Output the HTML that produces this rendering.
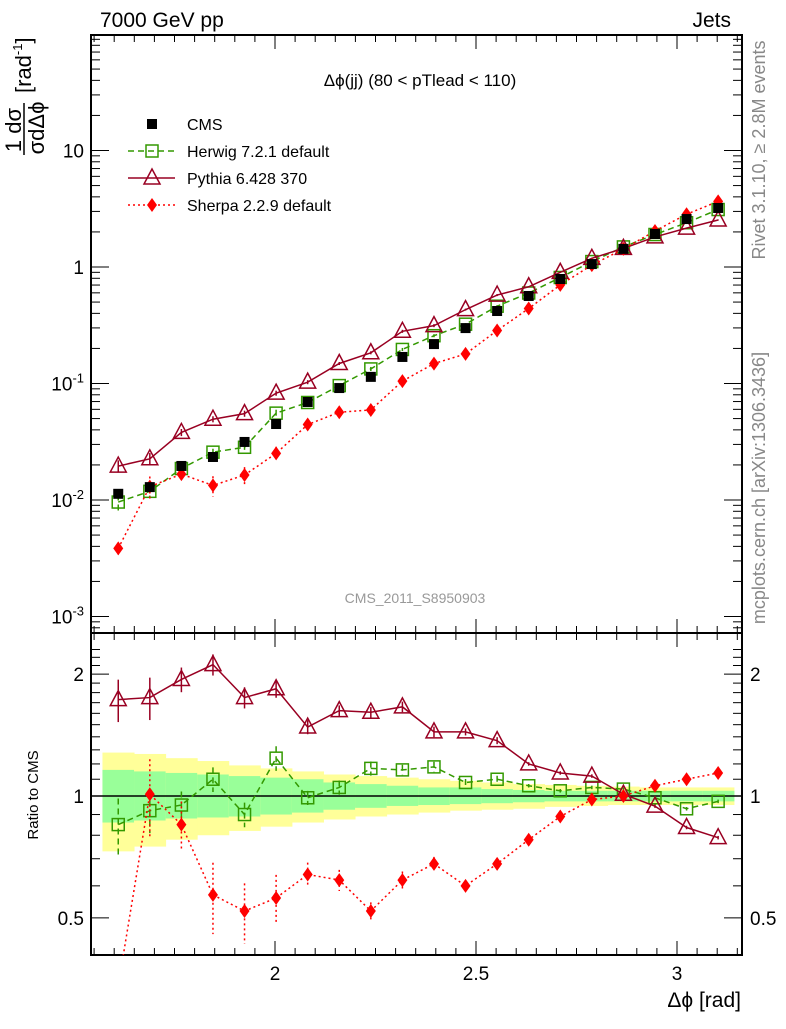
<!DOCTYPE html>
<html><head><meta charset="utf-8"><style>
body{margin:0;background:#fff;font-family:"Liberation Sans",sans-serif}
svg text{font-family:"Liberation Sans","DejaVu Sans",sans-serif}
</style></head><body>
<svg id="c" width="786" height="1024" xmlns="http://www.w3.org/2000/svg">
<text x="100" y="27" font-size="21">7000 GeV pp</text>
<text x="731" y="27" font-size="21" text-anchor="end">Jets</text>
<text x="420" y="86" font-size="17" text-anchor="middle">Δϕ(jj) (80 &lt; pTlead &lt;  110)</text>
<text transform="translate(765,150) rotate(-90)" font-size="18" fill="#888" text-anchor="middle">Rivet 3.1.10, ≥ 2.8M events</text>
<text transform="translate(765,488) rotate(-90)" font-size="18" fill="#888" text-anchor="middle">mcplots.cern.ch [arXiv:1306.3436]</text>
<text x="415" y="603" font-size="14" fill="#999" text-anchor="middle">CMS_2011_S8950903</text>
<g transform="rotate(-90)">
<text x="-130" y="21" font-size="22" text-anchor="middle">1 dσ</text>
<line x1="-155" y1="24" x2="-103" y2="24" stroke="#000" stroke-width="1.5"/>
<text x="-128" y="44" font-size="22" text-anchor="middle">σdΔϕ</text>
<text x="-93" y="31" font-size="22">[rad<tspan font-size="13" dy="-9">-1</tspan><tspan dy="9">]</tspan></text>
</g>
<text transform="translate(38,795) rotate(-90)" font-size="15" text-anchor="middle">Ratio to CMS</text>
<text x="741" y="1007" font-size="21" text-anchor="end">Δϕ [rad]</text>
<g id="g"></g>
</svg>
<script>
const cms=[0.0113,0.0129,0.0196,0.0234,0.0315,0.0449,0.0694,0.0914,0.114,0.169,0.218,0.299,0.419,0.564,0.789,1.06,1.43,1.92,2.58,3.21];
const herwigRatio=[0.85,0.92,0.95,1.10,0.90,1.24,0.99,1.05,1.17,1.16,1.18,1.08,1.10,1.06,1.03,1.05,1.04,0.99,0.93,0.97];
const pythiaRatio=[1.73,1.75,1.94,2.11,1.75,1.84,1.48,1.625,1.61,1.66,1.44,1.44,1.37,1.20,1.14,1.12,1.01,0.944,0.836,0.789];
const sherpaRatio=[0.34,1.01,0.85,0.57,0.52,0.56,0.64,0.62,0.52,0.62,0.68,0.60,0.68,0.78,0.89,0.98,1.0,1.06,1.1,1.14];
const herwigErr=[0.16,0.12,0.08,0.07,0.07,0.07,0.04,0.04,0.04,0.03,0.03,0.02,0.02,0.01,0.01,0.01,0.01,0.01,0.01,0.01];
const pythiaErr=[0.12,0.12,0.07,0.06,0.06,0.05,0.04,0.03,0.03,0.03,0.03,0.02,0.02,0.01,0.01,0.01,0.01,0.01,0.01,0.01];
const sherpaErr=[0.12,0.22,0.14,0.20,0.17,0.14,0.07,0.06,0.05,0.05,0.04,0.03,0.03,0.02,0.02,0.01,0.01,0.01,0.01,0.01];
const yellowUp=[1.28,1.27,1.24,1.22,1.19,1.17,1.15,1.13,1.12,1.11,1.10,1.09,1.08,1.07,1.065,1.06,1.055,1.05,1.05,1.05];
const yellowDn=[0.73,0.75,0.78,0.80,0.82,0.84,0.86,0.875,0.89,0.90,0.91,0.92,0.925,0.93,0.94,0.945,0.95,0.95,0.95,0.95];
const greenUp=[1.16,1.15,1.14,1.13,1.12,1.11,1.10,1.08,1.07,1.06,1.05,1.05,1.04,1.035,1.03,1.03,1.03,1.03,1.03,1.03];
const greenDn=[0.86,0.87,0.88,0.885,0.89,0.9,0.91,0.925,0.935,0.945,0.95,0.955,0.96,0.965,0.97,0.97,0.97,0.97,0.97,0.97];
const mainTicks=[["10","1","10"],["1","0",""],["10","-1","10"],["10","-2","10"],["10","-3","10"]];
const xTicks=[2,2.5,3];
const ratioTicks=[0.5,1,2];

const NS="http://www.w3.org/2000/svg",G=document.getElementById('g');
const L=91,R=742,T=35,MB=633,RB=955;
const X=v=>275+(v-2)*402;
const Y=v=>267-116.5*Math.log10(v);
const YR=v=>796-405*Math.log10(v);
function el(t,a,p){const e=document.createElementNS(NS,t);for(const k in a)e.setAttribute(k,a[k]);(p||G).appendChild(e);return e;}
const n=cms.length,w=Math.PI/2/n,ctr=i=>Math.PI/2+w*(i+0.5);
for(let i=0;i<n;i++){const x0=X(ctr(i)-w/2),x1=X(ctr(i)+w/2);
 let b=el('rect',{x:x0,y:YR(yellowUp[i]),width:x1-x0+0.5,height:YR(yellowDn[i])-YR(yellowUp[i]),fill:'#ffff99'});
 
 
 let g=el('rect',{x:x0,y:YR(greenUp[i]),width:x1-x0+0.5,height:YR(greenDn[i])-YR(greenUp[i]),fill:'#99ff99'});
 
 }
el('line',{x1:L,x2:R,y1:YR(1),y2:YR(1),stroke:'#000','stroke-width':1.5});
for(const [t,b] of [[T,MB],[MB,RB]]){const f=el('rect',{x:L,y:t,width:R-L,height:b-t,fill:'none',stroke:'#000','stroke-width':2});
 
 }
for(let v=1.55;v<=3.16;v+=0.05){const x=X(v);const maj=Math.abs(v*2-Math.round(v*2))<1e-6;const l=maj?14:7;
 for(const [t,b] of [[T,MB],[MB,RB]]){el('line',{x1:x,x2:x,y1:b,y2:b-l,stroke:'#000'});el('line',{x1:x,x2:x,y1:t,y2:t+l,stroke:'#000'});}}
xTicks.forEach(v=>{const t=el('text',{x:X(v),y:980,'font-size':19,'text-anchor':'middle'});t.textContent=String(v);
 
 });
for(let e=-4;e<=2;e++)for(let m=1;m<10;m++){const v=m*Math.pow(10,e),y=Y(v);if(y<T||y>MB)continue;const l=m==1?18:9;
 el('line',{x1:L,x2:L+l,y1:y,y2:y,stroke:'#000'});el('line',{x1:R,x2:R-l,y1:y,y2:y,stroke:'#000'});}
mainTicks.forEach((tk,i)=>{const y=Y(Math.pow(10,1-i));const t=el('text',{x:84,y:y+7,'font-size':19,'text-anchor':'end'});
 
 
 if(tk[2]&&tk[1]!=='1'){t.textContent=tk[2];const s=el('tspan',{dy:-8,'font-size':13},t);s.textContent=tk[1];}else t.textContent=tk[0];});
for(let v=0.4;v<=2.35;v+=0.1){const y=YR(v);if(y<MB||y>RB)continue;const maj=ratioTicks.some(r=>Math.abs(r-v)<1e-6);const l=maj?18:9;
 el('line',{x1:L,x2:L+l,y1:y,y2:y,stroke:'#000'});el('line',{x1:R,x2:R-l,y1:y,y2:y,stroke:'#000'});}
ratioTicks.forEach(v=>{for(const [x,a] of [[84,'end'],[750,'start']]){const t=el('text',{x:x,y:YR(v)+7,'font-size':19,'text-anchor':a});t.textContent=String(v);
 
 }});
const cp=el('clipPath',{id:'cm'});el('rect',{x:L,y:T,width:R-L,height:MB-T},cp);
const cr=el('clipPath',{id:'cr'});el('rect',{x:L,y:MB,width:R-L,height:RB-MB},cr);
const gm=el('g',{'clip-path':'url(#cm)'}),gr=el('g',{'clip-path':'url(#cr)'});
function marker(p,type,x,y,col){
 if(type=='sq')return el('rect',{x:x-6,y:y-6,width:12,height:12,fill:'none',stroke:col,'stroke-width':1.5},p);
 if(type=='tri')return el('path',{d:`M${x},${y-9}L${x+8},${y+6}L${x-8},${y+6}Z`,fill:'none',stroke:col,'stroke-width':1.5},p);
 if(type=='dia')return el('path',{d:`M${x},${y-7}L${x+5},${y}L${x},${y+7}L${x-5},${y}Z`,fill:col},p);
 return el('rect',{x:x-5,y:y-5,width:10,height:10,fill:col},p);}
const series=[['herwig',herwigRatio,herwigErr,'#339900','6,4','sq'],['pythia',pythiaRatio,pythiaErr,'#990022','','tri'],['sherpa',sherpaRatio,sherpaErr,'#ff0000','2,3','dia']];
series.forEach(([nm,r,er,col,da,mk])=>{
 const vals=r.map((q,i)=>q*cms[i]);
 for(const [p,fy,vv] of [[gm,Y,vals],[gr,YR,r]]){
  const pts=vv.map((v,i)=>X(ctr(i))+','+fy(v)).join(' ');
  const pl=el('polyline',{points:pts,fill:'none',stroke:col,'stroke-width':1.5,'stroke-dasharray':da},p);
  
  
  vv.forEach((v,i)=>{const x=X(ctr(i));
   el('line',{x1:x,x2:x,y1:fy(v*(1+er[i])),y2:fy(Math.max(v*(1-er[i]),1e-9)),stroke:col,'stroke-width':1.5,'stroke-dasharray':da},p);
   const m=marker(p,mk,x,fy(v),col);
   
   });
 }});
cms.forEach((v,i)=>{const m=marker(gm,'cms',X(ctr(i)),Y(v),'#000');
 
 });
const lg=[['CMS','cms','#000',''],['Herwig 7.2.1 default','sq','#339900','6,4'],['Pythia 6.428 370','tri','#990022',''],['Sherpa 2.2.9 default','dia','#ff0000','2,3']];
lg.forEach(([t,mk,col,da],i)=>{const y=124+i*27;const g=el('g',{});
 
 
 if(mk!='cms')el('line',{x1:128,x2:175,y1:y,y2:y,stroke:col,'stroke-width':1.5,'stroke-dasharray':da},g);
 marker(g,mk,152,y,col);
 const tx=el('text',{x:187,y:y+6,'font-size':16},g);tx.textContent=t;});
</script>
</body></html>
